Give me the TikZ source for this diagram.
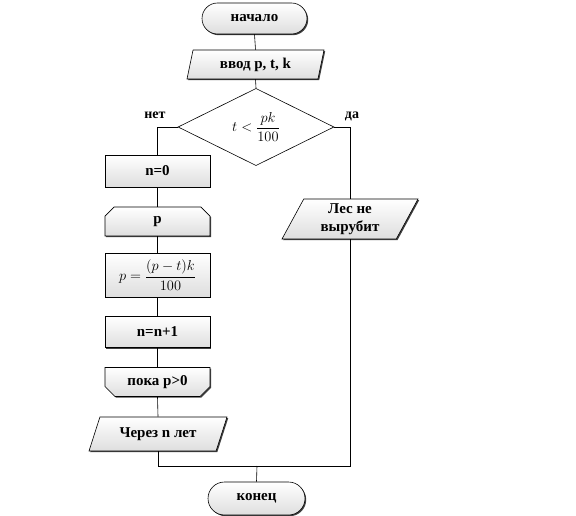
\documentclass[tikz,border=0pt]{standalone}
\usepackage{fontspec}
\setmainfont{Liberation Serif}
\usetikzlibrary{shapes.geometric,shapes.misc,shadows}
\begin{document}
\begin{tikzpicture}[x=1pt,y=-1pt,
  txt/.style={font=\bfseries\fontsize{15}{16}\selectfont, align=center},
  mth/.style={font=\fontsize{13.5}{15}\selectfont},
  boxlook/.style={draw=black, line width=0.6pt, top color=white, bottom color=black!13,
     drop shadow={shadow xshift=1.2pt, shadow yshift=-1.2pt, fill=black!75, opacity=1}},
  procbox/.style={boxlook, txt, rectangle, minimum width=105pt, inner sep=0pt},
  term/.style={boxlook, txt, rounded rectangle, inner sep=0pt},
  para/.style={boxlook, txt, trapezium, trapezium stretches body=true, inner sep=0pt},
  loopbox/.style={boxlook, txt, chamfered rectangle, chamfered rectangle xsep=5pt, chamfered rectangle ysep=5pt, minimum width=105pt, inner sep=0pt},
  dec/.style={draw=black, line width=0.6pt, fill=white, diamond, inner sep=0pt, minimum width=156pt, minimum height=72pt},
  conn/.style={draw=black, line width=0.6pt},
  lab/.style={font=\bfseries\fontsize{14}{15}\selectfont}
]
\useasboundingbox (0,0) rectangle (576,516);

\node[term, minimum width=105pt, minimum height=31pt] (start) at (254.5,18.5) {начало};
\node[para, trapezium left angle=66, trapezium right angle=114, minimum width=137pt, minimum height=29pt] (inp) at (255.5,64.5) {ввод p, t, k};
\node[dec, mth] (d) at (256,127) {$\displaystyle t<\frac{pk}{100}$};
\node[lab] at (155,115) {нет};
\node[lab] at (352,116) {да};

\node[procbox, minimum height=32pt] (n0) at (157.5,171) {n=0};
\node[loopbox, chamfered rectangle corners={north west,north east}, minimum height=29pt] (lp) at (157.5,221.5) {p};
\node[procbox, mth, minimum height=44pt] (f) at (157.5,275) {$\displaystyle p=\frac{(p-t)k}{100}$};
\node[procbox, minimum height=31pt] (inc) at (157.5,332) {n=n+1};
\node[loopbox, chamfered rectangle corners={south west,south east}, minimum height=29pt] (le) at (157.5,382) {пока p>0};
\node[para, trapezium left angle=50, trapezium right angle=130, minimum width=138pt, minimum height=34pt] (out) at (158,434) {Через n лет};

\node[para, trapezium left angle=55, trapezium right angle=125, minimum width=136pt, minimum height=40pt, font=\bfseries\fontsize{15}{18}\selectfont] (les) at (350,219) {Лес не\\вырубит};

\node[term, minimum width=97pt, minimum height=33pt] (end) at (256.5,498.5) {конец};
\coordinate (m) at (257,466);

\draw[conn] (start.south) -- (inp.north);
\draw[conn] (inp.south) -- (d.north);
\draw[conn] (d.west) -| (n0.north);
\draw[conn] (d.east) -| (les.north);
\draw[conn] (n0.south) -- (lp.north);
\draw[conn] (lp.south) -- (f.north);
\draw[conn] (f.south) -- (inc.north);
\draw[conn] (inc.south) -- (le.north);
\draw[conn] (le.south) -- (out.north);
\draw[conn] (out.south) |- (m);
\draw[conn] (les.south) |- (m);
\draw[conn] (m) -- (end.north);
\end{tikzpicture}
\end{document}
